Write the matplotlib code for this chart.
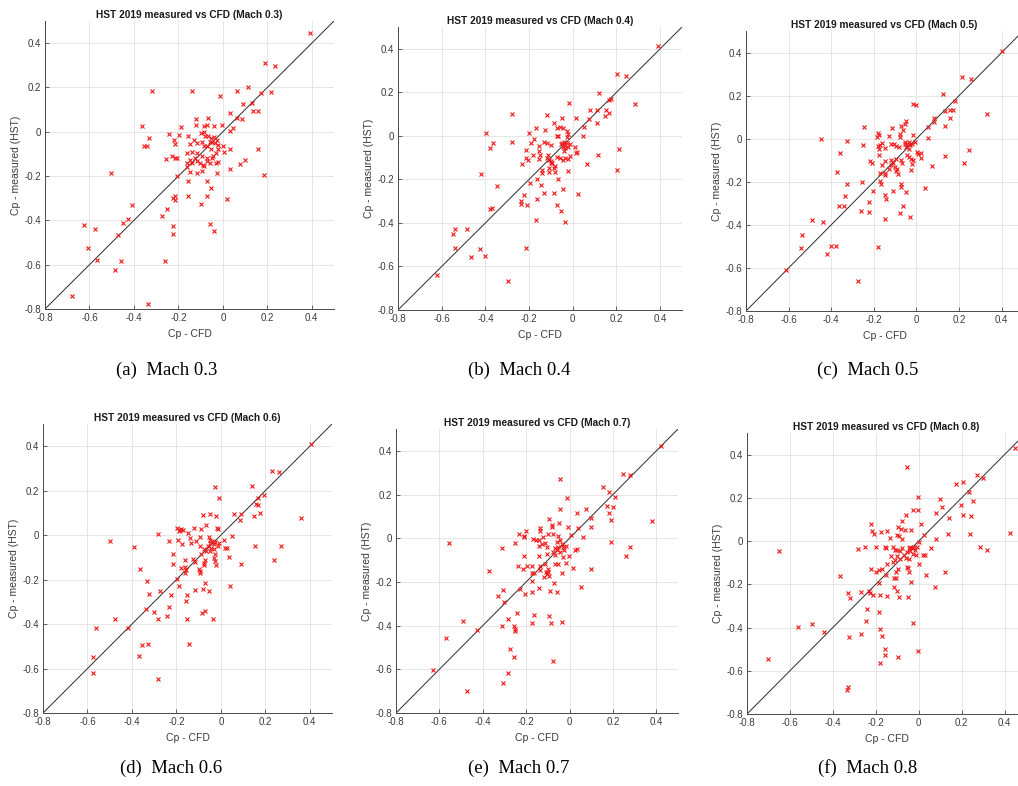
import matplotlib
matplotlib.use('Agg')
import matplotlib.pyplot as plt

# ---------------- data (Cp - CFD, Cp - measured) ----------------
x_m03 = [0.39,0.19,0.235,0.115,0.065,0.215,0.17,-0.32,-0.14,-0.015,
         0.13,0.09,0.135,0.16,0.03,0.065,0.085,-0.065,-0.12,-0.12,
         -0.085,-0.07,-0.04,-0.003,0.045,0.033,-0.19,-0.365,-0.33,-0.355,
         -0.34,-0.24,-0.22,-0.217,-0.195,-0.157,-0.15,-0.117,-0.13,-0.1,
         -0.087,-0.08,-0.065,-0.054,-0.042,-0.048,-0.035,-0.057,-0.027,-0.02,
         -0.072,-0.052,-0.02,0.0,0.003,-0.03,0.03,-0.045,-0.05,-0.03,
         -0.024,-0.057,-0.07,-0.095,-0.117,-0.127,-0.147,-0.162,-0.16,-0.14,
         -0.117,-0.105,-0.09,-0.087,-0.072,-0.255,-0.23,-0.215,-0.204,-0.207,
         -0.162,-0.15,-0.117,-0.095,-0.027,0.033,0.078,0.1,0.16,0.187,
         -0.502,-0.157,-0.07,-0.054,-0.07,-0.157,-0.1,0.018,-0.226,-0.217,
         -0.217,-0.252,-0.273,-0.408,-0.426,-0.447,-0.222,-0.222,-0.06,-0.042,
         -0.47,-0.624,-0.577,-0.607,-0.567,-0.459,-0.484,-0.262,-0.68,-0.336,
         -0.094,-0.084,-0.14]
y_m03 = [0.445,0.31,0.295,0.2,0.185,0.178,0.175,0.185,0.185,0.16,
         0.13,0.125,0.095,0.095,0.085,0.06,0.057,0.062,0.057,0.03,
         0.027,0.03,0.024,0.03,0.018,0.005,0.02,0.027,-0.03,-0.063,
         -0.063,-0.01,-0.035,-0.057,-0.014,-0.02,-0.056,-0.05,-0.035,-0.006,
         0.0,-0.02,-0.02,-0.03,-0.025,-0.045,-0.05,-0.048,-0.036,-0.058,
         -0.066,-0.08,-0.08,-0.066,-0.09,-0.096,-0.08,-0.11,-0.12,-0.14,
         -0.137,-0.14,-0.12,-0.11,-0.096,-0.12,-0.126,-0.096,-0.14,-0.14,
         -0.134,-0.14,-0.15,-0.156,-0.134,-0.123,-0.11,-0.12,-0.12,-0.2,
         -0.16,-0.18,-0.186,-0.175,-0.186,-0.17,-0.145,-0.127,-0.08,-0.195,
         -0.185,-0.22,-0.22,-0.254,-0.29,-0.29,-0.325,-0.302,-0.3,-0.29,
         -0.31,-0.35,-0.38,-0.33,-0.394,-0.41,-0.427,-0.46,-0.415,-0.448,
         -0.466,-0.42,-0.44,-0.525,-0.577,-0.585,-0.626,-0.585,-0.74,-0.777,
         -0.044,-0.066,-0.09]

x_m04 = [0.392,0.201,0.244,0.12,0.174,0.168,-0.017,0.284,0.11,0.079,
         0.151,0.168,0.148,-0.276,-0.116,-0.05,0.017,0.076,0.11,-0.085,
         -0.058,-0.07,-0.046,0.053,-0.169,-0.128,-0.027,-0.021,-0.2,-0.398,
         -0.073,-0.067,0.046,-0.178,-0.364,-0.276,-0.38,-0.189,-0.155,-0.133,
         -0.119,-0.1,-0.05,-0.04,-0.035,-0.046,-0.027,-0.023,-0.012,-0.055,
         -0.034,-0.041,0.008,0.014,0.021,-0.213,-0.155,-0.183,-0.212,-0.206,
         -0.148,-0.154,-0.113,-0.12,-0.11,-0.1,-0.072,-0.058,-0.034,-0.021,
         -0.012,-0.046,0.117,0.213,-0.233,-0.093,-0.081,-0.088,-0.099,0.067,
         -0.143,-0.142,-0.11,-0.082,-0.021,0.203,-0.419,-0.162,-0.067,-0.195,
         -0.145,-0.348,-0.046,-0.133,-0.084,0.026,-0.223,-0.166,-0.239,-0.239,
         -0.209,-0.07,-0.052,-0.381,-0.369,-0.169,-0.034,-0.537,-0.485,-0.549,
         -0.541,-0.425,-0.215,-0.465,-0.402,-0.622,-0.296,-0.027,-0.11]
y_m04 = [0.411,0.283,0.277,0.199,0.168,0.164,0.153,0.147,0.118,0.118,
         0.121,0.105,0.089,0.1,0.095,0.08,0.081,0.078,0.057,0.057,
         0.041,0.034,0.035,0.04,0.037,0.026,0.021,0.01,0.012,0.012,
         0.0,0.0,0.0,-0.014,-0.031,-0.028,-0.055,-0.035,-0.046,-0.029,
         -0.031,-0.044,-0.032,-0.027,-0.043,-0.05,-0.035,-0.05,-0.038,-0.038,
         -0.058,-0.069,-0.05,-0.078,-0.076,-0.066,-0.069,-0.087,-0.1,-0.112,
         -0.089,-0.105,-0.09,-0.1,-0.11,-0.115,-0.096,-0.102,-0.102,-0.107,
         -0.093,-0.11,-0.09,-0.06,-0.13,-0.125,-0.138,-0.15,-0.127,-0.131,
         -0.157,-0.17,-0.165,-0.168,-0.16,-0.157,-0.174,-0.199,-0.199,-0.216,
         -0.226,-0.229,-0.242,-0.261,-0.261,-0.265,-0.272,-0.289,-0.298,-0.315,
         -0.318,-0.317,-0.344,-0.336,-0.333,-0.387,-0.398,-0.427,-0.427,-0.451,
         -0.517,-0.521,-0.514,-0.555,-0.55,-0.641,-0.668,-0.005,-0.15]

x_m05 = [0.4,0.215,0.254,0.125,0.182,-0.016,-0.003,0.136,0.157,0.172,
         0.329,0.157,0.082,0.082,0.132,0.056,-0.246,-0.114,-0.072,-0.047,
         -0.056,-0.064,-0.017,-0.179,-0.174,-0.185,-0.13,-0.448,-0.326,0.052,
         -0.078,-0.052,-0.044,-0.036,-0.028,-0.047,-0.033,-0.02,-0.056,-0.009,
         -0.249,-0.18,-0.17,-0.149,-0.16,-0.119,-0.107,-0.082,-0.177,0.003,
         0.019,0.009,0.022,-0.359,-0.174,-0.045,-0.034,-0.027,0.136,0.246,
         0.221,-0.216,-0.208,-0.119,-0.11,-0.097,-0.074,-0.069,-0.022,-0.017,
         -0.163,-0.15,-0.121,-0.099,-0.089,-0.096,-0.085,-0.127,-0.025,0.075,
         -0.375,-0.172,-0.15,-0.147,-0.324,-0.255,-0.171,-0.168,-0.071,-0.072,
         -0.204,-0.11,-0.047,0.038,-0.335,-0.147,-0.144,-0.224,-0.362,-0.342,
         -0.063,-0.262,-0.224,-0.075,-0.031,-0.147,-0.491,-0.439,-0.538,-0.541,
         -0.403,-0.378,-0.18,-0.418,-0.614,-0.276,-0.075,-0.094]
y_m05 = [0.406,0.286,0.277,0.206,0.175,0.163,0.158,0.127,0.132,0.135,
         0.116,0.096,0.096,0.077,0.06,0.054,0.054,0.05,0.06,0.08,
         0.067,0.039,0.017,0.028,0.015,0.006,0.011,0.0,-0.009,0.003,
         0.023,-0.015,-0.023,-0.015,-0.031,-0.039,-0.046,-0.026,-0.026,-0.015,
         -0.028,-0.034,-0.031,-0.042,-0.019,-0.023,-0.026,-0.039,-0.05,-0.062,
         -0.065,-0.073,-0.09,-0.067,-0.074,-0.077,-0.085,-0.096,-0.082,-0.053,
         -0.115,-0.105,-0.111,-0.098,-0.113,-0.094,-0.101,-0.113,-0.116,-0.101,
         -0.121,-0.104,-0.124,-0.132,-0.142,-0.15,-0.163,-0.139,-0.144,-0.125,
         -0.153,-0.158,-0.159,-0.17,-0.209,-0.201,-0.198,-0.21,-0.209,-0.224,
         -0.245,-0.245,-0.249,-0.229,-0.266,-0.263,-0.282,-0.293,-0.313,-0.313,
         -0.313,-0.336,-0.341,-0.345,-0.364,-0.375,-0.376,-0.387,-0.447,-0.509,
         -0.498,-0.498,-0.505,-0.537,-0.611,-0.659,0.008,-0.034]

x_m06 = [0.407,0.229,0.263,0.139,-0.025,-0.01,0.196,0.165,0.156,0.165,
         0.174,0.147,0.09,0.087,0.06,-0.021,-0.048,-0.082,0.361,-0.067,
         -0.018,-0.015,-0.198,-0.18,-0.168,-0.12,-0.088,-0.281,-0.147,-0.19,
         -0.183,-0.093,-0.138,0.049,0.015,-0.5,-0.232,-0.111,-0.133,-0.175,
         -0.192,-0.055,-0.048,-0.04,-0.051,-0.033,-0.025,-0.01,-0.06,-0.045,
         -0.033,-0.051,-0.015,-0.066,-0.078,-0.392,-0.213,-0.096,-0.091,-0.027,
         0.019,0.028,0.036,0.154,0.269,0.237,-0.16,-0.126,-0.115,-0.078,
         -0.07,-0.033,-0.025,-0.024,-0.217,-0.18,-0.163,-0.156,-0.099,-0.096,
         -0.093,-0.075,0.091,-0.362,-0.16,-0.199,-0.331,-0.187,0.039,-0.115,
         -0.275,-0.082,-0.072,-0.054,-0.322,-0.222,-0.151,-0.156,-0.235,-0.335,
         -0.302,-0.07,-0.085,-0.241,-0.281,-0.475,-0.154,-0.037,-0.561,-0.419,
         -0.356,-0.329,-0.144,-0.573,-0.367,-0.573,-0.281]
y_m06 = [0.411,0.288,0.282,0.223,0.217,0.169,0.18,0.165,0.139,0.136,
         0.1,0.085,0.096,0.067,0.096,0.088,0.094,0.09,0.075,0.045,
         0.034,0.028,0.034,0.027,0.025,0.034,0.027,0.003,0.01,0.018,
         0.022,-0.007,-0.012,-0.002,-0.02,-0.025,-0.025,-0.028,-0.037,-0.042,
         -0.022,-0.007,-0.02,-0.027,-0.037,-0.042,-0.031,-0.034,-0.049,-0.057,
         -0.064,-0.072,-0.049,-0.072,-0.061,-0.054,-0.087,-0.049,-0.087,-0.087,
         -0.058,-0.058,-0.1,-0.049,-0.049,-0.114,-0.112,-0.106,-0.121,-0.124,
         -0.112,-0.102,-0.117,-0.135,-0.132,-0.148,-0.145,-0.157,-0.151,-0.162,
         -0.169,-0.135,-0.132,-0.15,-0.172,-0.199,-0.208,-0.229,-0.229,-0.247,
         -0.249,-0.24,-0.217,-0.25,-0.264,-0.268,-0.267,-0.294,-0.321,-0.334,
         -0.346,-0.339,-0.349,-0.363,-0.376,-0.379,-0.378,-0.375,-0.418,-0.418,
         -0.492,-0.489,-0.489,-0.547,-0.544,-0.619,-0.646]

x_m07 = [0.423,0.247,0.278,-0.043,0.152,0.183,0.21,-0.012,0.173,0.201,
         -0.046,0.075,0.035,0.183,0.1,0.189,-0.094,0.382,-0.048,-0.083,
         -0.081,0.1,-0.008,0.04,-0.135,-0.137,-0.201,-0.235,-0.21,-0.212,
         -0.097,-0.078,-0.052,-0.121,0.008,0.061,-0.557,-0.31,-0.252,-0.17,
         -0.155,-0.14,-0.129,-0.115,-0.106,-0.14,-0.06,-0.044,-0.037,-0.052,
         -0.067,-0.029,-0.017,-0.06,-0.075,-0.044,-0.026,-0.069,0.035,0.025,
         -0.002,0.189,0.279,0.258,-0.14,-0.212,-0.103,-0.032,-0.015,-0.067,
         -0.051,-0.112,-0.239,-0.196,-0.172,-0.136,-0.1,-0.109,-0.098,-0.106,
         -0.094,-0.118,-0.216,-0.172,-0.164,-0.138,-0.037,0.014,0.101,-0.37,
         -0.172,-0.072,-0.14,-0.229,-0.092,-0.057,-0.173,0.051,-0.307,-0.206,
         -0.328,-0.302,-0.244,-0.166,-0.094,-0.282,-0.175,-0.084,-0.037,-0.31,
         -0.258,-0.253,-0.25,-0.425,-0.489,-0.571,-0.276,-0.258,-0.078,-0.629,
         -0.282,-0.308,-0.475]
y_m07 = [0.422,0.296,0.291,0.273,0.236,0.212,0.188,0.184,0.149,0.142,
         0.133,0.133,0.114,0.114,0.093,0.084,0.087,0.078,0.072,0.061,
         0.052,0.053,0.05,0.046,0.046,0.035,0.034,0.018,0.012,0.006,
         0.021,0.02,0.008,0.005,0.015,0.005,-0.024,-0.044,-0.024,-0.005,
         -0.008,-0.008,-0.027,-0.023,-0.038,-0.034,-0.015,-0.008,-0.026,-0.038,
         -0.046,-0.038,-0.035,-0.053,-0.061,-0.061,-0.053,-0.076,-0.05,-0.053,
         -0.081,-0.015,-0.04,-0.082,-0.082,-0.081,-0.073,-0.084,-0.114,-0.12,
         -0.12,-0.117,-0.125,-0.125,-0.125,-0.125,-0.142,-0.154,-0.155,-0.166,
         -0.171,-0.178,-0.142,-0.16,-0.16,-0.145,-0.157,-0.137,-0.14,-0.152,
         -0.195,-0.207,-0.226,-0.233,-0.241,-0.245,-0.248,-0.223,-0.236,-0.255,
         -0.264,-0.294,-0.34,-0.352,-0.358,-0.369,-0.386,-0.389,-0.383,-0.401,
         -0.404,-0.416,-0.424,-0.418,-0.38,-0.457,-0.506,-0.544,-0.564,-0.605,
         -0.617,-0.663,-0.698]

x_m08 = [0.45,-0.054,0.272,0.3,0.172,0.207,0.234,-0.005,0.099,0.255,
         0.196,0.11,-0.028,-0.003,0.207,0.244,-0.061,0.081,0.14,-0.079,
         -0.224,0.012,-0.098,-0.084,-0.216,-0.148,-0.177,-0.064,-0.034,-0.207,
         -0.099,-0.092,-0.135,0.023,-0.076,0.138,0.241,0.082,0.427,0.003,
         -0.283,-0.252,-0.2,-0.155,-0.151,-0.12,-0.112,-0.099,-0.089,-0.078,
         -0.047,-0.039,-0.031,-0.023,-0.042,-0.054,-0.016,-0.008,-0.026,-0.011,
         0.019,0.031,0.059,0.284,0.32,-0.649,-0.127,-0.102,-0.07,-0.061,
         -0.045,-0.089,-0.112,-0.121,0.003,-0.149,-0.054,-0.05,-0.095,-0.045,
         0.036,0.124,-0.221,-0.185,-0.172,-0.197,-0.152,-0.104,-0.116,-0.107,
         -0.183,-0.115,-0.036,0.075,-0.366,-0.102,-0.092,-0.051,-0.23,-0.225,
         -0.213,-0.267,-0.331,-0.32,-0.179,-0.148,-0.242,-0.185,-0.247,-0.564,
         -0.497,-0.439,-0.27,-0.326,-0.179,-0.169,-0.026,-0.155,-0.158,-0.098,
         -0.002,-0.18,-0.703,-0.329,-0.332]
y_m08 = [0.431,0.344,0.305,0.293,0.265,0.271,0.225,0.206,0.194,0.185,
         0.165,0.156,0.146,0.146,0.122,0.116,0.12,0.131,0.108,0.092,
         0.08,0.079,0.065,0.055,0.048,0.045,0.043,0.049,0.049,0.031,
         0.029,0.025,0.014,0.028,0.008,0.035,0.031,0.008,0.039,-0.006,
         -0.035,-0.029,-0.026,-0.029,-0.031,-0.026,-0.042,-0.039,-0.046,-0.034,
         -0.034,-0.026,-0.034,-0.029,-0.045,-0.049,-0.042,-0.026,-0.062,-0.065,
         -0.066,-0.066,-0.031,-0.029,-0.042,-0.045,-0.068,-0.069,-0.066,-0.08,
         -0.085,-0.082,-0.089,-0.099,-0.105,-0.106,-0.119,-0.126,-0.131,-0.142,
         -0.157,-0.142,-0.128,-0.134,-0.129,-0.145,-0.156,-0.143,-0.173,-0.173,
         -0.196,-0.211,-0.19,-0.211,-0.16,-0.231,-0.257,-0.257,-0.233,-0.24,
         -0.248,-0.236,-0.239,-0.265,-0.25,-0.253,-0.314,-0.328,-0.37,-0.398,
         -0.385,-0.419,-0.428,-0.442,-0.405,-0.438,-0.381,-0.501,-0.529,-0.535,
         -0.51,-0.564,-0.544,-0.673,-0.69]

mach_numbers = ['0.3', '0.4', '0.5', '0.6', '0.7', '0.8']
panel_letters = ['a', 'b', 'c', 'd', 'e', 'f']
tick_values = [-0.8, -0.6, -0.4, -0.2, 0.0, 0.2, 0.4]
tick_labels = ['-0.8', '-0.6', '-0.4', '-0.2', '0', '0.2', '0.4']
axis_limits = [-0.8, 0.5]

series = [(x_m03, y_m03), (x_m04, y_m04), (x_m05, y_m05),
          (x_m06, y_m06), (x_m07, y_m07), (x_m08, y_m08)]

# ---------------- layout (pixels) ----------------
W, H = 1018, 786
boxes = [(45, 21, 289, 288), (398, 27, 284, 283), (746, 31, 277, 280),
         (43, 424, 289, 289), (396, 429, 282, 284), (747, 433, 279, 281)]
caption_xy = [(167, 370), (519, 370), (868, 370),
              (171, 768), (519, 768), (868, 768)]

SANS = ['Liberation Sans', 'DejaVu Sans']
TXT = '#3a3a3a'

fig = plt.figure(figsize=(W / 100, H / 100), dpi=100)
fig.patch.set_facecolor('white')

for i, ((xs, ys), (l, t, w, h)) in enumerate(zip(series, boxes)):
    ax = fig.add_axes([l / W, 1 - (t + h) / H, w / W, h / H])
    ax.set_xlim(axis_limits)
    ax.set_ylim(axis_limits)
    ax.plot(axis_limits, axis_limits, color='#2b2b2b', lw=0.7, zorder=2)
    ax.plot(xs, ys, linestyle='none', marker='x', ms=3.3, mew=0.8,
            color='#f01818', zorder=3)
    ax.set_xticks(tick_values)
    ax.set_yticks(tick_values)
    ax.set_xticklabels(tick_labels, family=SANS)
    ax.set_yticklabels(tick_labels, family=SANS)
    ax.grid(True, color='#e2e2e2', lw=0.6)
    ax.set_axisbelow(True)
    for s in ('top', 'right'):
        ax.spines[s].set_visible(False)
    for s in ('left', 'bottom'):
        ax.spines[s].set_color('#4a4a4a')
        ax.spines[s].set_linewidth(0.7)
    ax.tick_params(direction='in', length=3, width=0.6, colors='#4a4a4a',
                   labelcolor=TXT, labelsize=7)
    ax.tick_params(axis='x', pad=2.6)
    ax.tick_params(axis='y', pad=3.0)
    ax.set_xlabel('Cp - CFD', fontsize=7.5, color=TXT, family=SANS)
    ax.set_ylabel('Cp - measured (HST)', fontsize=7.5, color=TXT, family=SANS)
    ax.xaxis.set_label_coords(0.5, -20 / h)
    ax.yaxis.set_label_coords(-24 / w, 0.5)
    ax.set_title('HST 2019 measured vs CFD (Mach %s)' % mach_numbers[i],
                 fontsize=7.3, fontweight='bold', color='#1a1a1a', family=SANS, pad=2)
    cx, cy = caption_xy[i]
    fig.text(cx / W, 1 - cy / H, '(%s)  Mach %s' % (panel_letters[i], mach_numbers[i]),
             ha='center', va='center', fontsize=13.5,
             family=['Liberation Serif', 'DejaVu Serif'], color='black')

fig.savefig('out.png', dpi=100, facecolor='white')
